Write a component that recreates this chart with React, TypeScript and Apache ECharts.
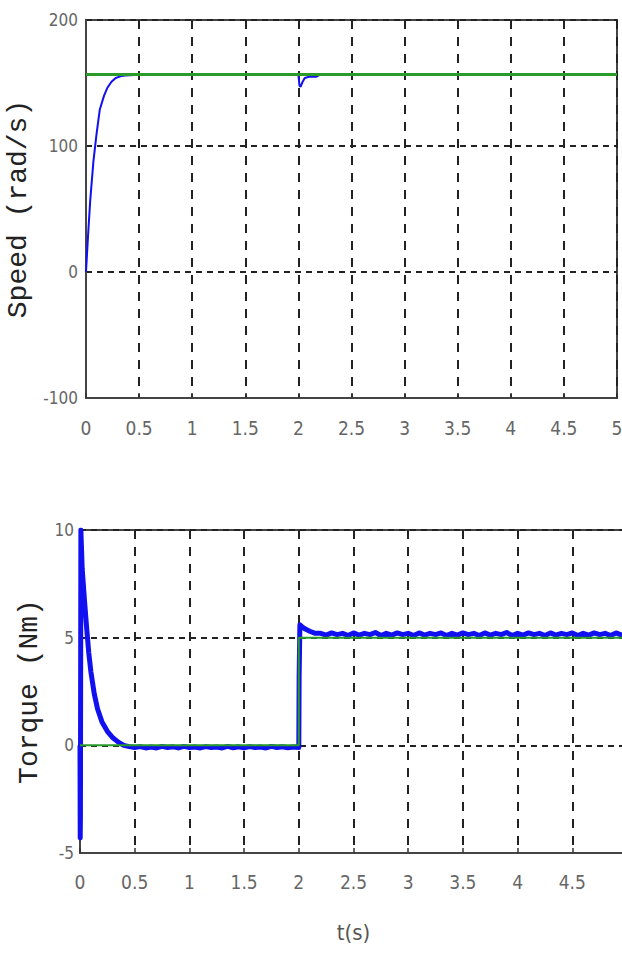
import React, { useEffect, useRef } from "react";
import * as echarts from "echarts";

// ---- Speed plot data ----
const speedTime = [0, 0.02, 0.04, 0.07, 0.1, 0.13, 0.17, 0.2, 0.24, 0.28, 0.33, 0.37, 0.5, 1, 1.5, 2, 2.01, 2.02, 2.04, 2.06, 2.1, 2.17, 2.2, 2.5, 3, 3.5, 4, 4.5, 5];
const speedVal = [0, 30, 57, 88, 110, 129, 140, 146, 151, 154, 155.5, 156, 156.5, 156.5, 156.5, 156.5, 148, 147, 151, 154, 155, 155, 156.5, 156.5, 156.5, 156.5, 156.5, 156.5, 156.5];
const speedRefTime = [0, 5];
const speedRefVal = [156.8, 156.8];

// ---- Torque plot data ----
const torqueStartTime = [0, 0.002, 0.004, 0.008, 0.02, 0.04, 0.06, 0.08, 0.1, 0.13, 0.16, 0.2, 0.25, 0.3, 0.35, 0.4];
const torqueStartVal = [0, -4.3, -3.2, 10, 8.2, 6.8, 5.5, 4.3, 3.4, 2.4, 1.7, 1.1, 0.65, 0.35, 0.15, 0.0];
const torqueLowTime = [0.45, 0.5, 0.55, 0.6, 0.65, 0.7, 0.75, 0.8, 0.85, 0.9, 0.95, 1, 1.05, 1.1, 1.15, 1.2, 1.25, 1.3, 1.35, 1.4, 1.45, 1.5, 1.55, 1.6, 1.65, 1.7, 1.75, 1.8, 1.85, 1.9, 1.95, 2.0];
const torqueLowVal = [-0.06, -0.1, -0.06, -0.12, -0.08, -0.12, -0.05, -0.1, -0.07, -0.12, -0.05, -0.1, -0.08, -0.12, -0.06, -0.1, -0.08, -0.12, -0.05, -0.11, -0.07, -0.12, -0.06, -0.1, -0.08, -0.12, -0.05, -0.1, -0.07, -0.11, -0.08, -0.1];
const torqueStepTime = [2.003, 2.01, 2.03, 2.06, 2.1, 2.15];
const torqueStepVal = [3.2, 5.6, 5.5, 5.4, 5.3, 5.2];
const torqueHighTime = [2.2, 2.25, 2.3, 2.35, 2.4, 2.45, 2.5, 2.55, 2.6, 2.65, 2.7, 2.75, 2.8, 2.85, 2.9, 2.95, 3, 3.05, 3.1, 3.15, 3.2, 3.25, 3.3, 3.35, 3.4, 3.45, 3.5, 3.55, 3.6, 3.65, 3.7, 3.75, 3.8, 3.85, 3.9, 3.95, 4, 4.05, 4.1, 4.15, 4.2, 4.25, 4.3, 4.35, 4.4, 4.45, 4.5, 4.55, 4.6, 4.65, 4.7, 4.75, 4.8, 4.85, 4.9, 4.95, 5];
const torqueHighVal = [5.2, 5.12, 5.22, 5.14, 5.2, 5.1, 5.22, 5.12, 5.2, 5.14, 5.24, 5.1, 5.2, 5.12, 5.22, 5.14, 5.2, 5.1, 5.22, 5.12, 5.2, 5.14, 5.22, 5.1, 5.2, 5.12, 5.22, 5.14, 5.2, 5.1, 5.22, 5.12, 5.2, 5.14, 5.24, 5.1, 5.2, 5.12, 5.22, 5.14, 5.2, 5.1, 5.22, 5.12, 5.2, 5.14, 5.22, 5.1, 5.2, 5.12, 5.22, 5.14, 5.2, 5.1, 5.22, 5.12, 5.2];
const torqueRefTime = [0, 2, 2, 5];
const torqueRefVal = [0, 0, 5, 5];

// ---- Axis labels ----
const speedAxisName = "Speed (rad/s)";
const torqueAxisName = "Torque (Nm)";
const timeAxisName = "t(s)";

const zip = (t: number[], v: number[]) => {
  const n = Math.min(t.length, v.length);
  const out: number[][] = [];
  for (let i = 0; i < n; i++) out.push([t[i], v[i]]);
  return out;
};

const BLUE = "#1010f0";
const GREEN = "#2a9a2a";
const TICK_FONT = "'Liberation Sans Narrow', 'DejaVu Sans Condensed', 'Liberation Sans', sans-serif";
const NAME_FONT = "'Liberation Mono', 'DejaVu Sans Mono', monospace";

export default function App() {
  const ref = useRef<HTMLDivElement>(null);

  useEffect(() => {
    if (!ref.current) return;
    const chart = echarts.init(ref.current, undefined, { renderer: "svg" });

    const xAxisCommon = {
      type: "value",
      min: 0,
      max: 5,
      interval: 0.5,
      axisLine: { show: true, onZero: false, lineStyle: { color: "#444", width: 2 } },
      axisTick: { show: true, inside: true, length: 5, lineStyle: { color: "#333", width: 1.5 } },
      axisLabel: { color: "#666", fontFamily: TICK_FONT, fontSize: 19 },
      splitLine: { show: true, lineStyle: { color: "#222", width: 2, type: [9, 8] } },
    };

    const yAxisCommon = {
      type: "value",
      axisLine: { show: true, onZero: false, lineStyle: { color: "#444", width: 2 } },
      axisTick: { show: false },
      axisLabel: { color: "#666", fontFamily: TICK_FONT, fontSize: 17 },
      splitLine: { show: true, lineStyle: { color: "#222", width: 2, type: [6, 5] } },
      nameLocation: "middle",
      nameRotate: 90,
      nameTextStyle: { color: "#222", fontFamily: NAME_FONT, fontSize: 28 },
    };

    const torqueData = [
      ...zip(torqueStartTime, torqueStartVal),
      ...zip(torqueLowTime, torqueLowVal),
      ...zip(torqueStepTime, torqueStepVal),
      ...zip(torqueHighTime, torqueHighVal),
    ];

    chart.setOption({
      animation: false,
      backgroundColor: "#ffffff",
      grid: [
        { left: 86, top: 20, width: 531, height: 378, show: true, borderColor: "#444", borderWidth: 2, backgroundColor: "#fff", containLabel: false, outerBoundsMode: "none" },
        { left: 80, top: 530, width: 547, height: 323, show: true, borderColor: "#444", borderWidth: 2, backgroundColor: "#fff", containLabel: false, outerBoundsMode: "none" },
      ],
      xAxis: [
        { ...xAxisCommon, gridIndex: 0, axisLabel: { ...xAxisCommon.axisLabel, margin: 20 } },
        {
          ...xAxisCommon,
          gridIndex: 1,
          axisLabel: { ...xAxisCommon.axisLabel, margin: 19, showMaxLabel: false },
          name: timeAxisName,
          nameLocation: "middle",
          nameGap: 68,
          nameTextStyle: { color: "#555", fontFamily: TICK_FONT, fontSize: 22 },
        },
      ],
      yAxis: [
        { ...yAxisCommon, gridIndex: 0, min: -100, max: 200, interval: 100, name: speedAxisName, nameGap: 48, axisLabel: { ...yAxisCommon.axisLabel, margin: 8 } },
        { ...yAxisCommon, gridIndex: 1, min: -5, max: 10, interval: 5, name: torqueAxisName, nameGap: 37, axisLabel: { ...yAxisCommon.axisLabel, margin: 6 } },
      ],
      series: [
        {
          type: "line",
          xAxisIndex: 0,
          yAxisIndex: 0,
          data: zip(speedTime, speedVal),
          showSymbol: false,
          lineStyle: { color: BLUE, width: 2 },
          z: 3,
        },
        {
          type: "line",
          xAxisIndex: 0,
          yAxisIndex: 0,
          data: zip(speedRefTime, speedRefVal),
          showSymbol: false,
          lineStyle: { color: GREEN, width: 3 },
          z: 4,
        },
        {
          type: "line",
          xAxisIndex: 1,
          yAxisIndex: 1,
          data: torqueData,
          showSymbol: false,
          lineStyle: { color: BLUE, width: 5, join: "round" },
          z: 3,
        },
        {
          type: "line",
          xAxisIndex: 1,
          yAxisIndex: 1,
          data: zip(torqueRefTime, torqueRefVal),
          showSymbol: false,
          lineStyle: { color: GREEN, width: 2 },
          z: 4,
        },
      ],
    });

    return () => chart.dispose();
  }, []);

  return (
    <div style={{ position: "fixed", left: 0, top: 0, width: 622, height: 955, overflow: "hidden", background: "#fff" }}>
      <div ref={ref} style={{ width: 640, height: 955 }} />
    </div>
  );
}
